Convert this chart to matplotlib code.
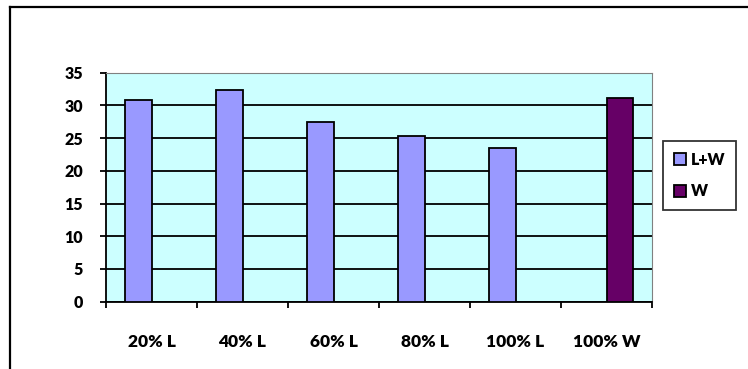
import matplotlib.pyplot as plt
import matplotlib.lines as mlines
import numpy as np

categories = ['20% L', '40% L', '60% L', '80% L', '100% L', '100% W']
lw_values = [30.8, 32.3, 27.4, 25.4, 23.5, np.nan]
w_values = [np.nan, np.nan, np.nan, np.nan, np.nan, 31.1]
y_ticks = [0, 5, 10, 15, 20, 25, 30, 35]

title = 'The following graph compares compressive strength of L+W and W for M20 grade concrete'


def plot_chart():
    fig = plt.figure(figsize=(7.48, 3.69), dpi=100)
    fig.patch.set_facecolor('white')

    # title line, cut off at the top like the source page (only descenders show)
    fig.text(0.5, 1 + 3.5 / 369, title, ha='center', va='baseline',
             fontsize=13, fontweight='bold', family='Liberation Serif')

    # outer frame (top and left edges only visible)
    fig.add_artist(mlines.Line2D([10 / 748, 1.0], [1 - 7 / 369, 1 - 7 / 369],
                                 color='black', lw=1.6, transform=fig.transFigure))
    fig.add_artist(mlines.Line2D([10 / 748, 10 / 748], [0.0, 1 - 7 / 369],
                                 color='black', lw=1.6, transform=fig.transFigure))

    ax = fig.add_axes([106 / 748, 1 - 301.7 / 369, (652 - 106) / 748, (301.7 - 72.7) / 369])
    ax.set_facecolor('#CCFFFF')

    x = np.arange(len(categories))
    width = 0.29
    ax.bar(x - width / 2, lw_values, width, color='#9999FF', edgecolor='black',
           linewidth=1.3, label='L+W', zorder=3)
    ax.bar(x + width / 2, w_values, width, color='#660066', edgecolor='black',
           linewidth=1.3, label='W', zorder=3)

    ax.set_xlim(-0.5, len(categories) - 0.5)
    ax.set_ylim(0, 35)
    ax.set_yticks(y_ticks)
    ax.set_yticklabels([str(v) for v in y_ticks])
    ax.yaxis.grid(True, color='black', linewidth=1.3)
    ax.set_axisbelow(True)

    # category boundaries get the tick marks, centres get the labels
    ax.set_xticks(np.arange(-0.5, len(categories), 1.0))
    ax.set_xticklabels([])
    ax.set_xticks(x, minor=True)
    ax.set_xticklabels(categories, minor=True)
    ax.tick_params(axis='x', which='major', direction='out', length=4.5, width=1.3)
    ax.tick_params(axis='x', which='minor', length=0, pad=23, labelsize=12.5)
    ax.tick_params(axis='y', direction='out', length=4.5, width=1.3, pad=12, labelsize=11.5)
    for lbl in ax.get_xticklabels(minor=True) + ax.get_yticklabels():
        lbl.set_fontweight('heavy')
        lbl.set_family('Lato')

    ax.spines['left'].set_linewidth(1.3)
    ax.spines['bottom'].set_linewidth(1.3)
    ax.spines['top'].set_color('#808080')
    ax.spines['right'].set_color('#808080')

    leg = fig.legend(loc='center', bbox_to_anchor=(699.5 / 748, 1 - 175.5 / 369),
                     frameon=True, fancybox=False, handlelength=0.75, handleheight=0.75,
                     handletextpad=0.3, labelspacing=1.0, borderpad=0.65,
                     prop={'family': 'Lato', 'weight': 'heavy', 'size': 11.5})
    leg.get_frame().set_edgecolor('black')
    leg.get_frame().set_linewidth(1.3)

    fig.savefig('out.png', dpi=100)


if __name__ == '__main__':
    plot_chart()
